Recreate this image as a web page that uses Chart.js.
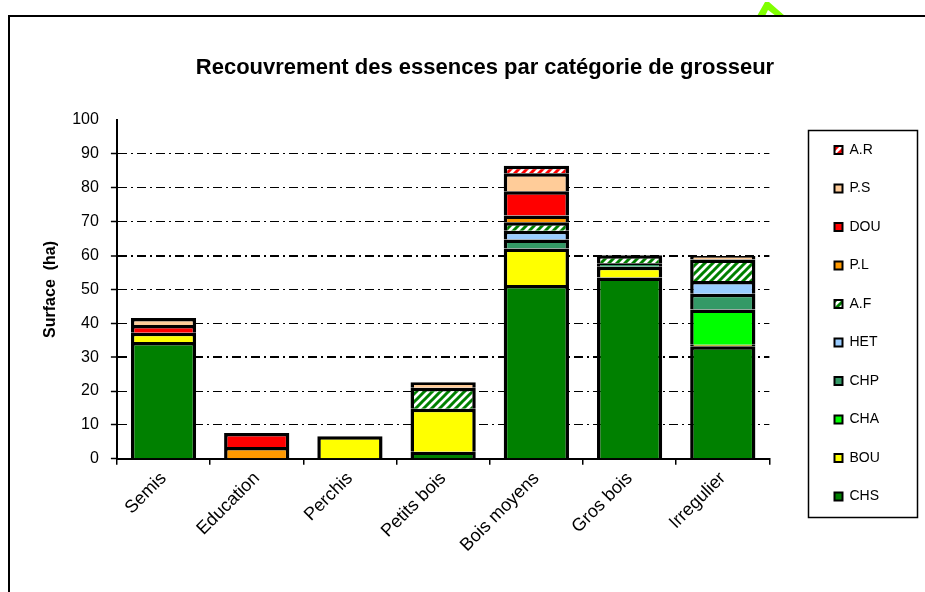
<!DOCTYPE html>
<html>
<head>
<meta charset="utf-8">
<script src="https://cdn.jsdelivr.net/npm/chart.js@4/dist/chart.umd.min.js"></script>
<style>
html,body{margin:0;padding:0;background:#fff;overflow:hidden;}
#c{display:block;}
</style>
</head>
<body>
<canvas id="c" width="925" height="592"></canvas>
<script>
// ---- Data ----
const categories = ["Semis", "Education", "Perchis", "Petits bois", "Bois moyens", "Gros bois", "Irregulier"];
const CHS = [34.5, null, null, 2.1, 51.3, 53.5, 33.2];
const BOU = [2.7, null, 6.7, 12.7, 10.8, 3.2, 0.5];
const CHA = [null, null, null, null, null, null, 10.4];
const CHP = [null, null, null, null, 2.6, 1.0, 4.6];
const HET = [null, null, null, null, 2.6, null, 3.8];
const AF  = [null, null, null, 6.2, 2.5, 2.4, 6.3];
const PL  = [null, 3.5, null, null, 2.0, null, null];
const DOU = [2.3, 4.1, null, null, 7.2, null, null];
const PS  = [2.1, null, null, 1.6, 5.3, null, 1.1];
const AR  = [null, null, null, null, 2.2, null, null];
const yTicks = [0, 10, 20, 30, 40, 50, 60, 70, 80, 90, 100];
const chartTitle = "Recouvrement des essences par catégorie de grosseur";
const yTitle = "Surface  (ha)";

// ---- Styles ----
function hatch(color) {
  const p = document.createElement('canvas');
  p.width = 8; p.height = 8;
  const g = p.getContext('2d');
  g.fillStyle = '#fff'; g.fillRect(0, 0, 8, 8);
  g.strokeStyle = color; g.lineWidth = 3; g.lineCap = 'square';
  g.beginPath();
  g.moveTo(0, 8); g.lineTo(8, 0);
  g.moveTo(-2, 2); g.lineTo(2, -2);
  g.moveTo(6, 10); g.lineTo(10, 6);
  g.stroke();
  return g.createPattern(p, 'repeat');
}
const ctx0 = document.getElementById('c').getContext('2d');

const series = [
  {label: 'CHS', data: CHS, color: '#008000'},
  {label: 'BOU', data: BOU, color: '#FFFF00'},
  {label: 'CHA', data: CHA, color: '#00FF00'},
  {label: 'CHP', data: CHP, color: '#339966'},
  {label: 'HET', data: HET, color: '#99CCFF'},
  {label: 'A.F', data: AF,  color: hatch('#008000')},
  {label: 'P.L', data: PL,  color: '#FF9900'},
  {label: 'DOU', data: DOU, color: '#FF0000'},
  {label: 'P.S', data: PS,  color: '#FFCC99'},
  {label: 'A.R', data: AR,  color: hatch('#FF0000')}
];

const FONT = "'Liberation Sans', Arial, sans-serif";

const decor = {
  id: 'decor',
  beforeDraw(chart) {
    const c = chart.ctx;
    c.save();
    c.fillStyle = '#fff';
    c.fillRect(0, 0, chart.width, chart.height);
    // green chevron fragment
    c.fillStyle = '#80FF00';
    c.beginPath();
    c.moveTo(757, 16); c.lineTo(765, 2); c.lineTo(769, 2); c.lineTo(785, 16);
    c.lineTo(776, 16); c.lineTo(768, 10); c.lineTo(765, 16);
    c.closePath(); c.fill();
    // outer frame
    c.strokeStyle = '#000'; c.lineWidth = 2;
    c.beginPath();
    c.moveTo(9, 600); c.lineTo(9, 16); c.lineTo(930, 16);
    c.stroke();
    c.restore();
  },
  afterLayout(chart) {
    const lg = chart.legend;
    lg.left = 810; lg.right = 917; lg.top = 116.5; lg.bottom = 530;
    lg.width = lg.right - lg.left; lg.height = lg.bottom - lg.top;
    const tb = chart.titleBlock;
    tb.left = 0; tb.right = 970; tb.width = 970;
  },
  afterDraw(chart) {
    const c = chart.ctx;
    c.save();
    c.strokeStyle = '#000'; c.lineWidth = 1.5;
    c.strokeRect(808.5, 130.5, 109, 387);
    c.restore();
  }
};

new Chart(ctx0, {
  type: 'bar',
  data: {
    labels: categories,
    datasets: series.map(s => ({
      label: s.label,
      data: s.data,
      backgroundColor: s.color,
      borderColor: '#000',
      borderWidth: 3.5,
      borderSkipped: 'start',
      barPercentage: 0.7,
      categoryPercentage: 1.0
    }))
  },
  options: {
    responsive: false,
    animation: false,
    devicePixelRatio: 1,
    layout: {padding: {left: 41, right: 75, top: 0, bottom: 33}},
    plugins: {
      title: {
        display: true,
        text: chartTitle,
        color: '#000',
        font: {family: FONT, size: 22, weight: 'bold'},
        padding: {top: 55, bottom: 38.6}
      },
      legend: {
        display: true,
        position: 'right',
        reverse: true,
        labels: {
          color: '#000',
          font: {family: FONT, size: 14},
          boxWidth: 8,
          boxHeight: 8,
          padding: 24.5,
          generateLabels(chart) {
            const items = Chart.defaults.plugins.legend.labels.generateLabels(chart);
            items.forEach(it => { it.lineWidth = 2; it.strokeStyle = '#000'; });
            return items;
          }
        }
      },
      tooltip: {enabled: false}
    },
    scales: {
      x: {
        stacked: true,
        grid: {display: true, drawOnChartArea: false, offset: true, color: '#000', tickLength: 6, lineWidth: 1.5},
        border: {display: true, color: '#000', width: 2},
        ticks: {color: '#000', font: {family: FONT, size: 18}, minRotation: 45, maxRotation: 45, padding: 3}
      },
      y: {
        stacked: true,
        min: 0,
        max: 100,
        afterBuildTicks(scale) { scale.ticks = yTicks.map(v => ({value: v})); },
        grid: {
          drawOnChartArea: true,
          color: (c) => (c.tick && (c.tick.value === 0 || c.tick.value === 100)) ? 'rgba(0,0,0,0)' : '#000',
          lineWidth: (c) => (c.tick && (c.tick.value === 30 || c.tick.value === 60)) ? 2 : 1,
          tickColor: (c) => (c.tick && c.tick.value === 100) ? 'rgba(0,0,0,0)' : '#000',
          tickWidth: 1.5,
          tickLength: 6
        },
        border: {display: true, color: '#000', width: 2, dash: [9, 4, 2, 4]},
        ticks: {color: '#000', font: {family: FONT, size: 16}, padding: 12},
        title: {display: true, text: yTitle, color: '#000', font: {family: FONT, size: 16, weight: 'bold'}, padding: {top: 0, bottom: 0}}
      }
    }
  },
  plugins: [decor]
});
</script>
</body>
</html>
